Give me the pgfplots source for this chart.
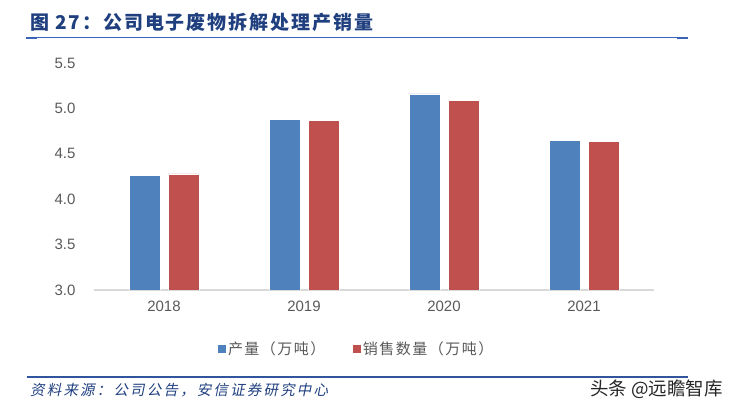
\documentclass[border=0pt]{standalone}
\usepackage{pgfplots}
\pgfplotsset{compat=1.18}
\usepackage{pgfplotstable}
\usepackage{fontspec}
\setmainfont{Liberation Sans}
\newfontfamily\cjk{Noto Sans CJK SC}
\newfontfamily\cjkit[FakeSlant=0.2]{Noto Sans CJK SC}
\definecolor{barblue}{HTML}{4F81BD}
\definecolor{barred}{HTML}{C0504D}
\definecolor{titleblue}{HTML}{1F3F7F}
\definecolor{lineblue}{HTML}{3A64B8}
\definecolor{txtgray}{HTML}{595959}
\pgfplotstableread{
x p s
0 4.26 4.28
1 4.88 4.87
2 5.16 5.09
3 4.65 4.64
}\datatable
\begin{document}
\begin{tikzpicture}
\path[use as bounding box] (0,0) rectangle (736bp,409bp);
% title
\node[anchor=base west, inner sep=0pt, text=titleblue] at (30bp,379bp)
  {\cjk\bfseries\addfontfeature{LetterSpace=10}\fontsize{19bp}{22bp}\selectfont 图 27：公司电子废物拆解处理产销量};
\draw[lineblue, line width=1bp] (26bp,371bp) -- (688bp,371bp);
\draw[lineblue, line width=2.5bp] (26bp,371bp) -- (37bp,371bp);
\draw[lineblue, line width=2.5bp] (677bp,371bp) -- (688bp,371bp);
% bottom
\draw[lineblue!85!black, line width=1.3bp] (27bp,32bp) -- (688bp,32bp);
\node[anchor=base west, inner sep=0pt, text=titleblue] at (30bp,14bp)
  {\cjkit\addfontfeature{LetterSpace=15}\fontsize{14.5bp}{17bp}\selectfont 资料来源：公司公告，安信证券研究中心};
\node[anchor=base west, inner sep=0pt, text=black!85] at (590bp,14bp)
  {\cjk\fontsize{18.5bp}{21bp}\selectfont 头条 @远瞻智库};
\begin{axis}[
  at={(94bp,119bp)}, anchor=south west,
  scale only axis, width=560bp, height=227bp,
  xmin=-0.5, xmax=3.5, ymin=3, ymax=5.5,
  ybar=8bp, bar width=31bp,
  axis x line*=bottom, axis y line*=left,
  y axis line style={draw=none},
  x axis line style={draw=black!15, line width=1.5bp},
  major tick length=0pt,
  xtick={0,1,2,3}, xticklabels={2018,2019,2020,2021},
  ytick={3,3.5,4,4.5,5,5.5},
  /pgf/number format/.cd, fixed, fixed zerofill, precision=1, assume math mode=true,
  /pgfplots/.cd,
  tick label style={font=\fontsize{15bp}{18bp}\selectfont, text=txtgray},
  yticklabel style={xshift=-15bp},
  xticklabel style={yshift=-8bp},
  legend columns=2,
  legend style={at={(0.5,0)}, anchor=center, xshift=-18bp, yshift=-59bp, draw=none,
    font=\cjk\addfontfeature{LetterSpace=10}\fontsize{15bp}{18bp}\selectfont, text=txtgray,
    /tikz/every even column/.append style={column sep=24bp}},
  legend image code/.code={\fill[#1] (0bp,-4.5bp) rectangle (9bp,4.5bp);},
]
\addplot[fill=barblue, draw=white, line width=0.4bp] table[x=x, y=p] {\datatable};
\addplot[fill=barred, draw=white, line width=0.4bp] table[x=x, y=s] {\datatable};
\legend{产量（万吨）, 销售数量（万吨）}
\end{axis}
\end{tikzpicture}
\end{document}
